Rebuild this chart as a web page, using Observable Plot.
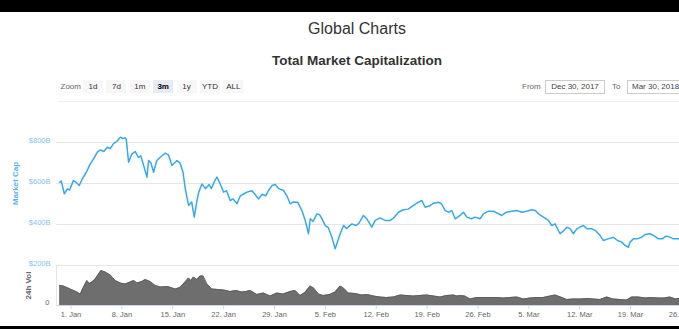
<!DOCTYPE html>
<html>
<head>
<meta charset="utf-8">
<script src="https://cdn.jsdelivr.net/npm/d3@7"></script>
<script src="https://cdn.jsdelivr.net/npm/@observablehq/plot@0.6"></script>
<style>
  html, body { margin: 0; padding: 0; }
  body { width: 679px; height: 329px; overflow: hidden; position: relative; background: #fff;
         font-family: "Liberation Sans", Arial, sans-serif; }
  .abs { position: absolute; white-space: nowrap; }
  .btn { position: absolute; top: 80px; width: 20px; height: 13px; line-height: 13px; font-size: 8px;
         text-align: center; background: #f7f7f7; color: #333; }
  .btn.sel { background: #e6ebf5; color: #000; font-weight: bold; }
  .box { position: absolute; top: 80px; height: 12px; line-height: 12px; border: 1px solid #ccc;
         font-size: 8px; color: #444; }
  .chart { position: absolute; left: 0; width: 720px; overflow: visible; }
  .chart svg { max-width: none !important; }
</style>
</head>
<body>
<script>
// ---- data ----
const pageTitle = "Global Charts";
const chartTitle = "Total Market Capitalization";
const zoomButtons = ["1d", "7d", "1m", "3m", "1y", "YTD", "ALL"];
const selectedButton = "3m";
const fromDate = "Dec 30, 2017";
const toDate = "Mar 30, 2018";

// days since 1 Jan 2018 (UTC) and total market cap in $B
const capDays = [-1.57,-1.35,-0.92,-0.51,-0.2,0.32,0.7,1.14,1.55,2.1,2.65,3.1,3.62,4.03,4.5,5.0,5.4,5.82,6.3,6.78,7.1,7.47,7.6,7.92,8.39,8.84,9.26,9.6,9.99,10.45,10.67,11.0,11.36,11.8,12.28,12.97,13.4,13.89,14.58,15.0,15.41,15.72,16.18,16.6,16.96,17.33,17.6,18.02,18.5,19.0,19.3,19.8,20.08,20.5,20.99,21.4,21.91,22.3,22.83,23.3,23.8,24.21,24.9,25.3,25.8,26.3,26.8,27.18,27.65,28.1,28.6,29.24,29.7,30.16,30.6,31.2,31.77,32.23,32.68,32.92,33.3,33.84,34.2,34.5,34.98,35.4,35.9,36.35,36.7,37.04,37.5,37.9,38.65,39.2,39.6,40.25,40.7,41.4,41.86,42.54,43.2,43.92,44.4,45.06,45.75,46.4,47.13,47.81,48.28,48.73,49.3,49.88,50.56,51.0,51.49,52.0,52.4,52.86,53.55,54.0,54.47,55.1,55.6,56.3,56.75,57.44,58.1,58.7,59.28,59.9,60.66,61.3,62.04,62.7,63.41,63.9,64.32,65.01,65.7,66.16,66.6,67.3,67.8,68.23,68.7,69.13,69.6,70.05,70.51,71.0,71.66,72.2,72.81,73.26,73.9,74.64,75.2,75.79,76.25,76.7,76.93,77.39,77.9,78.54,78.99,79.68,80.2,80.82,81.4,81.8,82.2,82.9,83.58,84.3,85.0,86.0,87.0,87.8];
const capValues = [606,612,550,574,568,614,605,590,623,655,696,720,753,764,756,777,770,793,805,826,820,823,815,704,745,756,728,735,688,631,712,700,655,712,728,748,740,688,712,700,655,574,493,510,436,517,560,598,575,595,575,615,631,600,558,565,517,525,501,540,550,558,565,548,525,548,540,566,590,595,575,566,540,501,510,508,468,420,355,428,415,452,448,430,395,385,338,281,320,355,395,380,403,395,405,444,428,387,420,432,420,420,432,460,472,475,493,509,517,484,490,504,509,500,468,460,468,428,444,460,436,428,436,428,452,465,465,455,444,460,465,468,460,465,472,468,452,436,420,395,403,355,370,387,379,355,379,387,395,379,379,370,346,322,330,338,322,314,298,289,314,330,330,338,351,355,346,330,330,343,341,330,330,335,320,305,295,290];

// days since 1 Jan 2018 (UTC) and 24h volume in $B
const volDays = [-1.57,-1.02,-0.1,0.83,1.28,1.73,2.2,2.5,2.89,3.34,3.8,4.13,4.72,5.41,6.09,6.78,7.47,8.16,8.61,9.1,9.77,10.22,10.9,11.6,12.28,13.3,14.35,15.0,15.72,16.18,16.5,16.86,17.3,17.79,18.2,18.71,19.39,20.2,20.99,21.91,22.7,23.52,24.1,24.66,25.58,26.49,27.41,28.34,29.2,30.16,30.85,31.54,32.2,32.92,33.4,34.06,34.75,35.6,36.35,37.04,37.5,38.18,39.1,40.03,40.8,41.62,42.54,43.4,44.37,45.3,46.2,47.13,48.0,48.97,49.9,50.8,51.7,52.63,53.1,53.55,54.2,54.92,55.85,56.8,57.68,58.6,59.51,60.4,61.35,62.26,63.2,64.1,65.0,65.93,66.62,67.4,68.23,69.1,70.05,71.0,71.9,72.81,73.73,74.6,75.56,76.48,77.17,78.1,79.0,79.9,80.82,81.6,82.43,83.2,84.0,85.5,87.0,88.0];
const volValues = [40,39,33,27,23,37,50,44,47,53,63,70,67,61,50,45,43,47,50,45,48,52,48,40,37,38,33,36,47,55,50,57,52,59,59,43,33,32,31,28,30,27,28,30,22,25,19,25,23,28,30,20,26,39,35,23,20,22,27,39,35,25,24,21,22,19,17,16,17,21,20,19,20,21,19,17,20,21,19,20,19,13,16,16,16,16,15,16,17,13,15,16,16,19,21,17,12,13,13,14,13,12,17,13,12,11,17,17,15,16,15,15,17,13,15,14,16,15];

const capTicks = [200, 400, 600, 800];
const capTickLabels = ["$200B", "$400B", "$600B", "$800B"];
const volTicks = [0];
const volTickLabels = ["0"];
const volMax = 80;
const capRange = [200, 883];
const xTickDates = ["2018-01-01","2018-01-08","2018-01-15","2018-01-22","2018-01-29","2018-02-05","2018-02-12","2018-02-19","2018-02-26","2018-03-05","2018-03-12","2018-03-19","2018-03-26"];
const xTickLabels = ["1. Jan","8. Jan","15. Jan","22. Jan","29. Jan","5. Feb","12. Feb","19. Feb","26. Feb","5. Mar","12. Mar","19. Mar","26. Mar"];
const xStartDate = "2017-12-30";
const xEndDate = "2018-03-30";

// ---- build ----
const day0 = Date.UTC(2018, 0, 1);
const dayToDate = d => new Date(day0 + d * 864e5);
const cap = capDays.map((d, i) => ({date: dayToDate(d), value: capValues[i]}));
const vol = volDays.map((d, i) => ({date: dayToDate(d), value: volValues[i]}));
const xDomain = [new Date(xStartDate), new Date(xEndDate)];
const xTicks = xTickDates.map(s => new Date(s));

const font = {fontFamily: '"Liberation Sans", Arial, sans-serif', fontSize: "7.5px", background: "transparent", overflow: "visible", maxWidth: "none"};

function add(el, css) { Object.assign(el.style, css); document.body.appendChild(el); return el; }
function div(text, css, cls) { const d = document.createElement("div"); d.className = "abs " + (cls || ""); d.textContent = text; return add(d, css); }

add(document.createElement("div"), {position: "absolute", left: "0", top: "0", width: "679px", height: "12px", background: "#000"});
add(document.createElement("div"), {position: "absolute", left: "0", top: "326px", width: "679px", height: "3px", background: "#000"});
div(pageTitle, {left: "0", top: "20.5px", width: "714px", textAlign: "center", fontSize: "16px", lineHeight: "16px", color: "#333"});
div(chartTitle, {left: "0", top: "53.5px", width: "714px", textAlign: "center", fontSize: "13.5px", lineHeight: "13.5px", color: "#333", fontWeight: "bold"});
div("Zoom", {left: "60.5px", top: "82px", fontSize: "8px", lineHeight: "9px", color: "#666"});
zoomButtons.forEach((b, i) => {
  const d = document.createElement("div");
  d.className = "btn" + (b === selectedButton ? " sel" : "");
  d.textContent = b;
  d.style.left = (83 + i * 23.4) + "px";
  document.body.appendChild(d);
});
div("From", {left: "522px", top: "82px", fontSize: "8px", lineHeight: "9px", color: "#666"});
div(fromDate, {left: "545px", width: "58px", textAlign: "center"}, "box");
div("To", {left: "612px", top: "82px", fontSize: "8px", lineHeight: "9px", color: "#666"});
div(toDate, {left: "627px", width: "58px", paddingLeft: "4px", textAlign: "left"}, "box");
add(document.createElement("div"), {position: "absolute", left: "58px", top: "101px", width: "660px", height: "1px", background: "#f0f0f0"});

const W = 720, ML = 56, MR = 10;

const main = Plot.plot({
  width: W, height: 146, marginLeft: ML, marginRight: MR, marginTop: 5, marginBottom: 1,
  style: font,
  x: {type: "utc", domain: xDomain, axis: null},
  y: {domain: capRange, axis: null},
  marks: [
    Plot.gridY(capTicks, {stroke: "#e6e6e6", strokeOpacity: 1}),
    Plot.axisY({ticks: capTicks, tickFormat: (d, i) => capTickLabels[i], tickSize: 0, tickPadding: 6, dy: -2,
                fill: "#86c2ee", label: "Market Cap", labelAnchor: "center", labelArrow: false, labelOffset: 44}),
    Plot.lineY(cap, {x: "date", y: "value", stroke: "#36a9ee", strokeWidth: 1.5})
  ]
});
const mainWrap = add(document.createElement("div"), {top: "120px"});
mainWrap.className = "chart";
mainWrap.appendChild(main);

const volume = Plot.plot({
  width: W, height: 65, marginLeft: ML, marginRight: MR, marginTop: 5, marginBottom: 20,
  style: font,
  x: {type: "utc", domain: xDomain, axis: null},
  y: {domain: [0, volMax], axis: null},
  marks: [
    Plot.areaY(vol, {x: "date", y: "value", fill: "#6e6e6e"}),
    Plot.lineY(vol, {x: "date", y: "value", stroke: "#5a5a5a", strokeWidth: 0.8}),
    Plot.ruleY([volMax], {stroke: "#e6e6e6"}),
    Plot.ruleX([xDomain[0]], {stroke: "#e6e6e6"}),
    Plot.ruleY([0], {stroke: "#ccd6eb"}),
    Plot.axisX({ticks: xTicks, tickFormat: (d, i) => xTickLabels[i], tickSize: 4, tickPadding: 2,
                stroke: "#ccd6eb", fill: "#666", label: null}),
    Plot.axisY({ticks: volTicks, tickFormat: (d, i) => volTickLabels[i], tickSize: 0, tickPadding: 7, dy: -3,
                fill: "#666", label: "24h Vol", labelAnchor: "center", labelArrow: false, labelOffset: 31})
  ]
});
const volWrap = add(document.createElement("div"), {top: "260px"});
volWrap.className = "chart";
volWrap.appendChild(volume);

// axis titles: bold, 8px; the market-cap title sits a little above the panel centre
main.querySelectorAll("g[aria-label='y-axis label']").forEach(g => {
  g.setAttribute("font-weight", "bold");
  g.setAttribute("font-size", "8px");
  g.setAttribute("fill", "#5ab4ee");
  g.querySelectorAll("text").forEach(t => t.setAttribute("dx", "12"));
});
volume.querySelectorAll("g[aria-label='y-axis label']").forEach(g => {
  g.setAttribute("font-weight", "bold");
  g.setAttribute("font-size", "8px");
});
</script>
</body>
</html>
